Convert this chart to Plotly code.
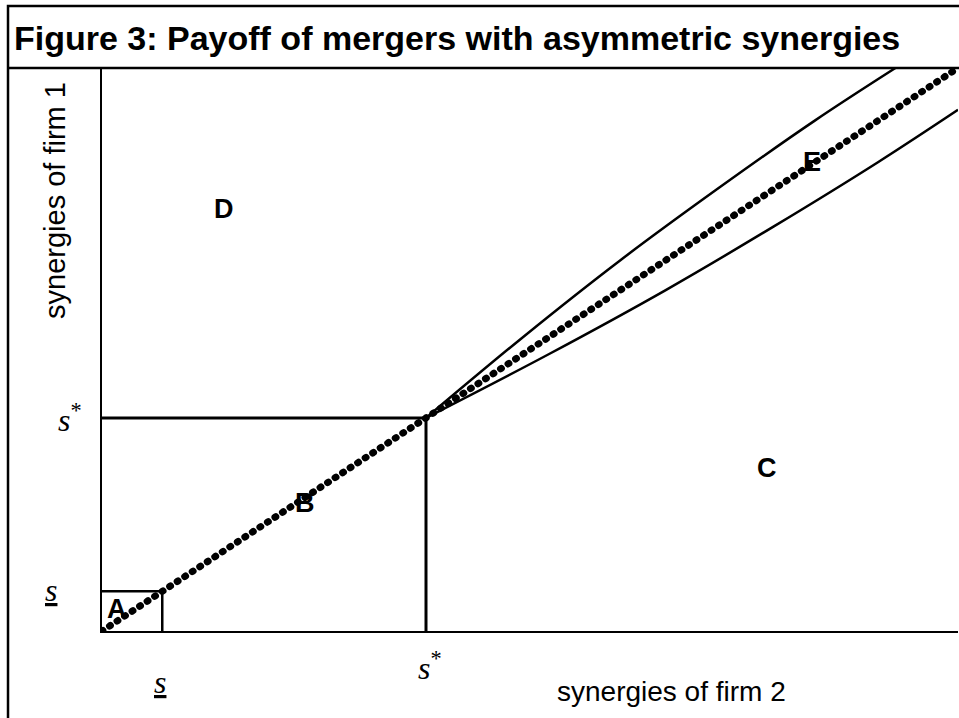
import plotly.graph_objects as go

# ---- data (in units of s*) ----
S_LOW = 0.186          # s (underlined) threshold
S_STAR = 1.0           # s* threshold
S_MAX = 2.642          # axis extent

diag_s2 = [0.0, S_MAX]
diag_s1 = [0.0, S_MAX]

upper_s2 = [1.0, 1.3, 1.6, 1.9, 2.2, 2.45]
upper_s1 = [1.0, 1.38, 1.74, 2.075, 2.395, 2.643]

lower_s2 = [1.0, 1.38, 1.74, 2.075, 2.395, 2.642]
lower_s1 = [1.0, 1.3, 1.6, 1.9, 2.2, 2.446]

region_labels = ["A", "B", "C", "D", "E"]
region_x = [0.046, 0.627, 2.052, 0.377, 2.191]
region_y = [0.103, 0.601, 0.765, 1.981, 2.202]

TITLE = "Figure 3: Payoff of mergers with asymmetric synergies"
XTITLE = "synergies of firm 2"
YTITLE = "synergies of firm 1"

SANS = "Liberation Sans, Arial, sans-serif"
SERIF = "Liberation Serif, Times New Roman, serif"

fig = go.Figure()

def seg(xs, ys, w):
    fig.add_trace(go.Scatter(x=xs, y=ys, mode="lines",
                             line=dict(color="black", width=w),
                             hoverinfo="skip", showlegend=False))

# boxes for s and s*
seg([0, S_STAR], [S_STAR, S_STAR], 3)
seg([S_STAR, S_STAR], [0, S_STAR], 3)
seg([0, S_LOW], [S_LOW, S_LOW], 2.5)
seg([S_LOW, S_LOW], [0, S_LOW], 2.5)

# curved boundaries
fig.add_trace(go.Scatter(x=upper_s2, y=upper_s1, mode="lines",
                         line=dict(color="black", width=2.5, shape="spline", smoothing=1.0),
                         hoverinfo="skip", showlegend=False))
fig.add_trace(go.Scatter(x=lower_s2, y=lower_s1, mode="lines",
                         line=dict(color="black", width=2.5, shape="spline", smoothing=1.0),
                         hoverinfo="skip", showlegend=False))

# dotted diagonal
fig.add_trace(go.Scatter(x=diag_s2, y=diag_s1, mode="lines",
                         line=dict(color="black", width=7, dash="1px,8px"),
                         hoverinfo="skip", showlegend=False))

annotations = []
for lab, xx, yy in zip(region_labels, region_x, region_y):
    annotations.append(dict(x=xx, y=yy, xref="x", yref="y", text="<b>%s</b>" % lab,
                            showarrow=False, font=dict(family=SANS, size=27, color="black"),
                            xanchor="center", yanchor="middle"))

TICKFONT = dict(family=SERIF, size=32, color="black")
# tick-like labels
annotations += [
    dict(x=0, y=S_STAR, xref="x", yref="y", text="<i>s</i><sup>*</sup>", showarrow=False,
         font=TICKFONT, xanchor="right", yanchor="middle", xshift=-18, yshift=0),
    dict(x=0, y=S_LOW, xref="x", yref="y", text="<u><i>s</i></u>", showarrow=False,
         font=TICKFONT, xanchor="center", yanchor="top", xshift=-51, yshift=21),
    dict(x=S_LOW, y=0, xref="x", yref="y", text="<u><i>s</i></u>", showarrow=False,
         font=TICKFONT, xanchor="center", yanchor="top", xshift=-2, yshift=-31),
    dict(x=S_STAR, y=0, xref="x", yref="y", text="<i>s</i><sup>*</sup>", showarrow=False,
         font=TICKFONT, xanchor="center", yanchor="top", xshift=4, yshift=-13),
    dict(x=0.529, y=-0.108, xref="paper", yref="paper", text=XTITLE, showarrow=False,
         font=dict(family=SANS, size=28, color="black"), xanchor="left", yanchor="middle"),
    dict(x=-0.0549, y=0.7638, xref="paper", yref="paper", text=YTITLE, showarrow=False,
         textangle=-90, font=dict(family=SANS, size=29, color="black"),
         xanchor="center", yanchor="middle"),
]

shapes = [
    dict(type="rect", xref="paper", yref="paper", x0=-0.1098, x1=1.05, y0=-0.3, y1=1.11,
         line=dict(color="black", width=2.5), fillcolor="rgba(0,0,0,0)", layer="above"),
    dict(type="line", xref="paper", yref="paper", x0=-0.1098, x1=1.05, y0=1.0, y1=1.0,
         line=dict(color="black", width=2.5), layer="above"),
]

fig.update_layout(
    width=959, height=718,
    margin=dict(l=102, r=1, t=68, b=87),
    paper_bgcolor="white", plot_bgcolor="white",
    title=dict(text="<b>%s</b>" % TITLE, x=14 / 959, xanchor="left", xref="container",
               y=1 - 38 / 718, yanchor="middle", yref="container",
               font=dict(family=SANS, size=34, color="black")),
    xaxis=dict(range=[0, S_MAX], showgrid=False, zeroline=False, showticklabels=False,
               ticks="", showline=True, linecolor="black", linewidth=2, fixedrange=True),
    yaxis=dict(range=[0, S_MAX], showgrid=False, zeroline=False, showticklabels=False,
               ticks="", showline=True, linecolor="black", linewidth=2, fixedrange=True),
    annotations=annotations,
    shapes=shapes,
    showlegend=False,
)

post = """
document.body.style.margin = '0';
document.body.style.padding = '0';
var gd = document.getElementById('{plot_id}');
var traces = gd.querySelectorAll('.scatterlayer .trace');
var last = traces[traces.length - 1];
if (last) { last.querySelectorAll('path.js-line').forEach(function(p){
    p.style.strokeLinecap = 'round'; }); }
"""

fig.write_html("out.html", post_script=post, config={"displayModeBar": False})
